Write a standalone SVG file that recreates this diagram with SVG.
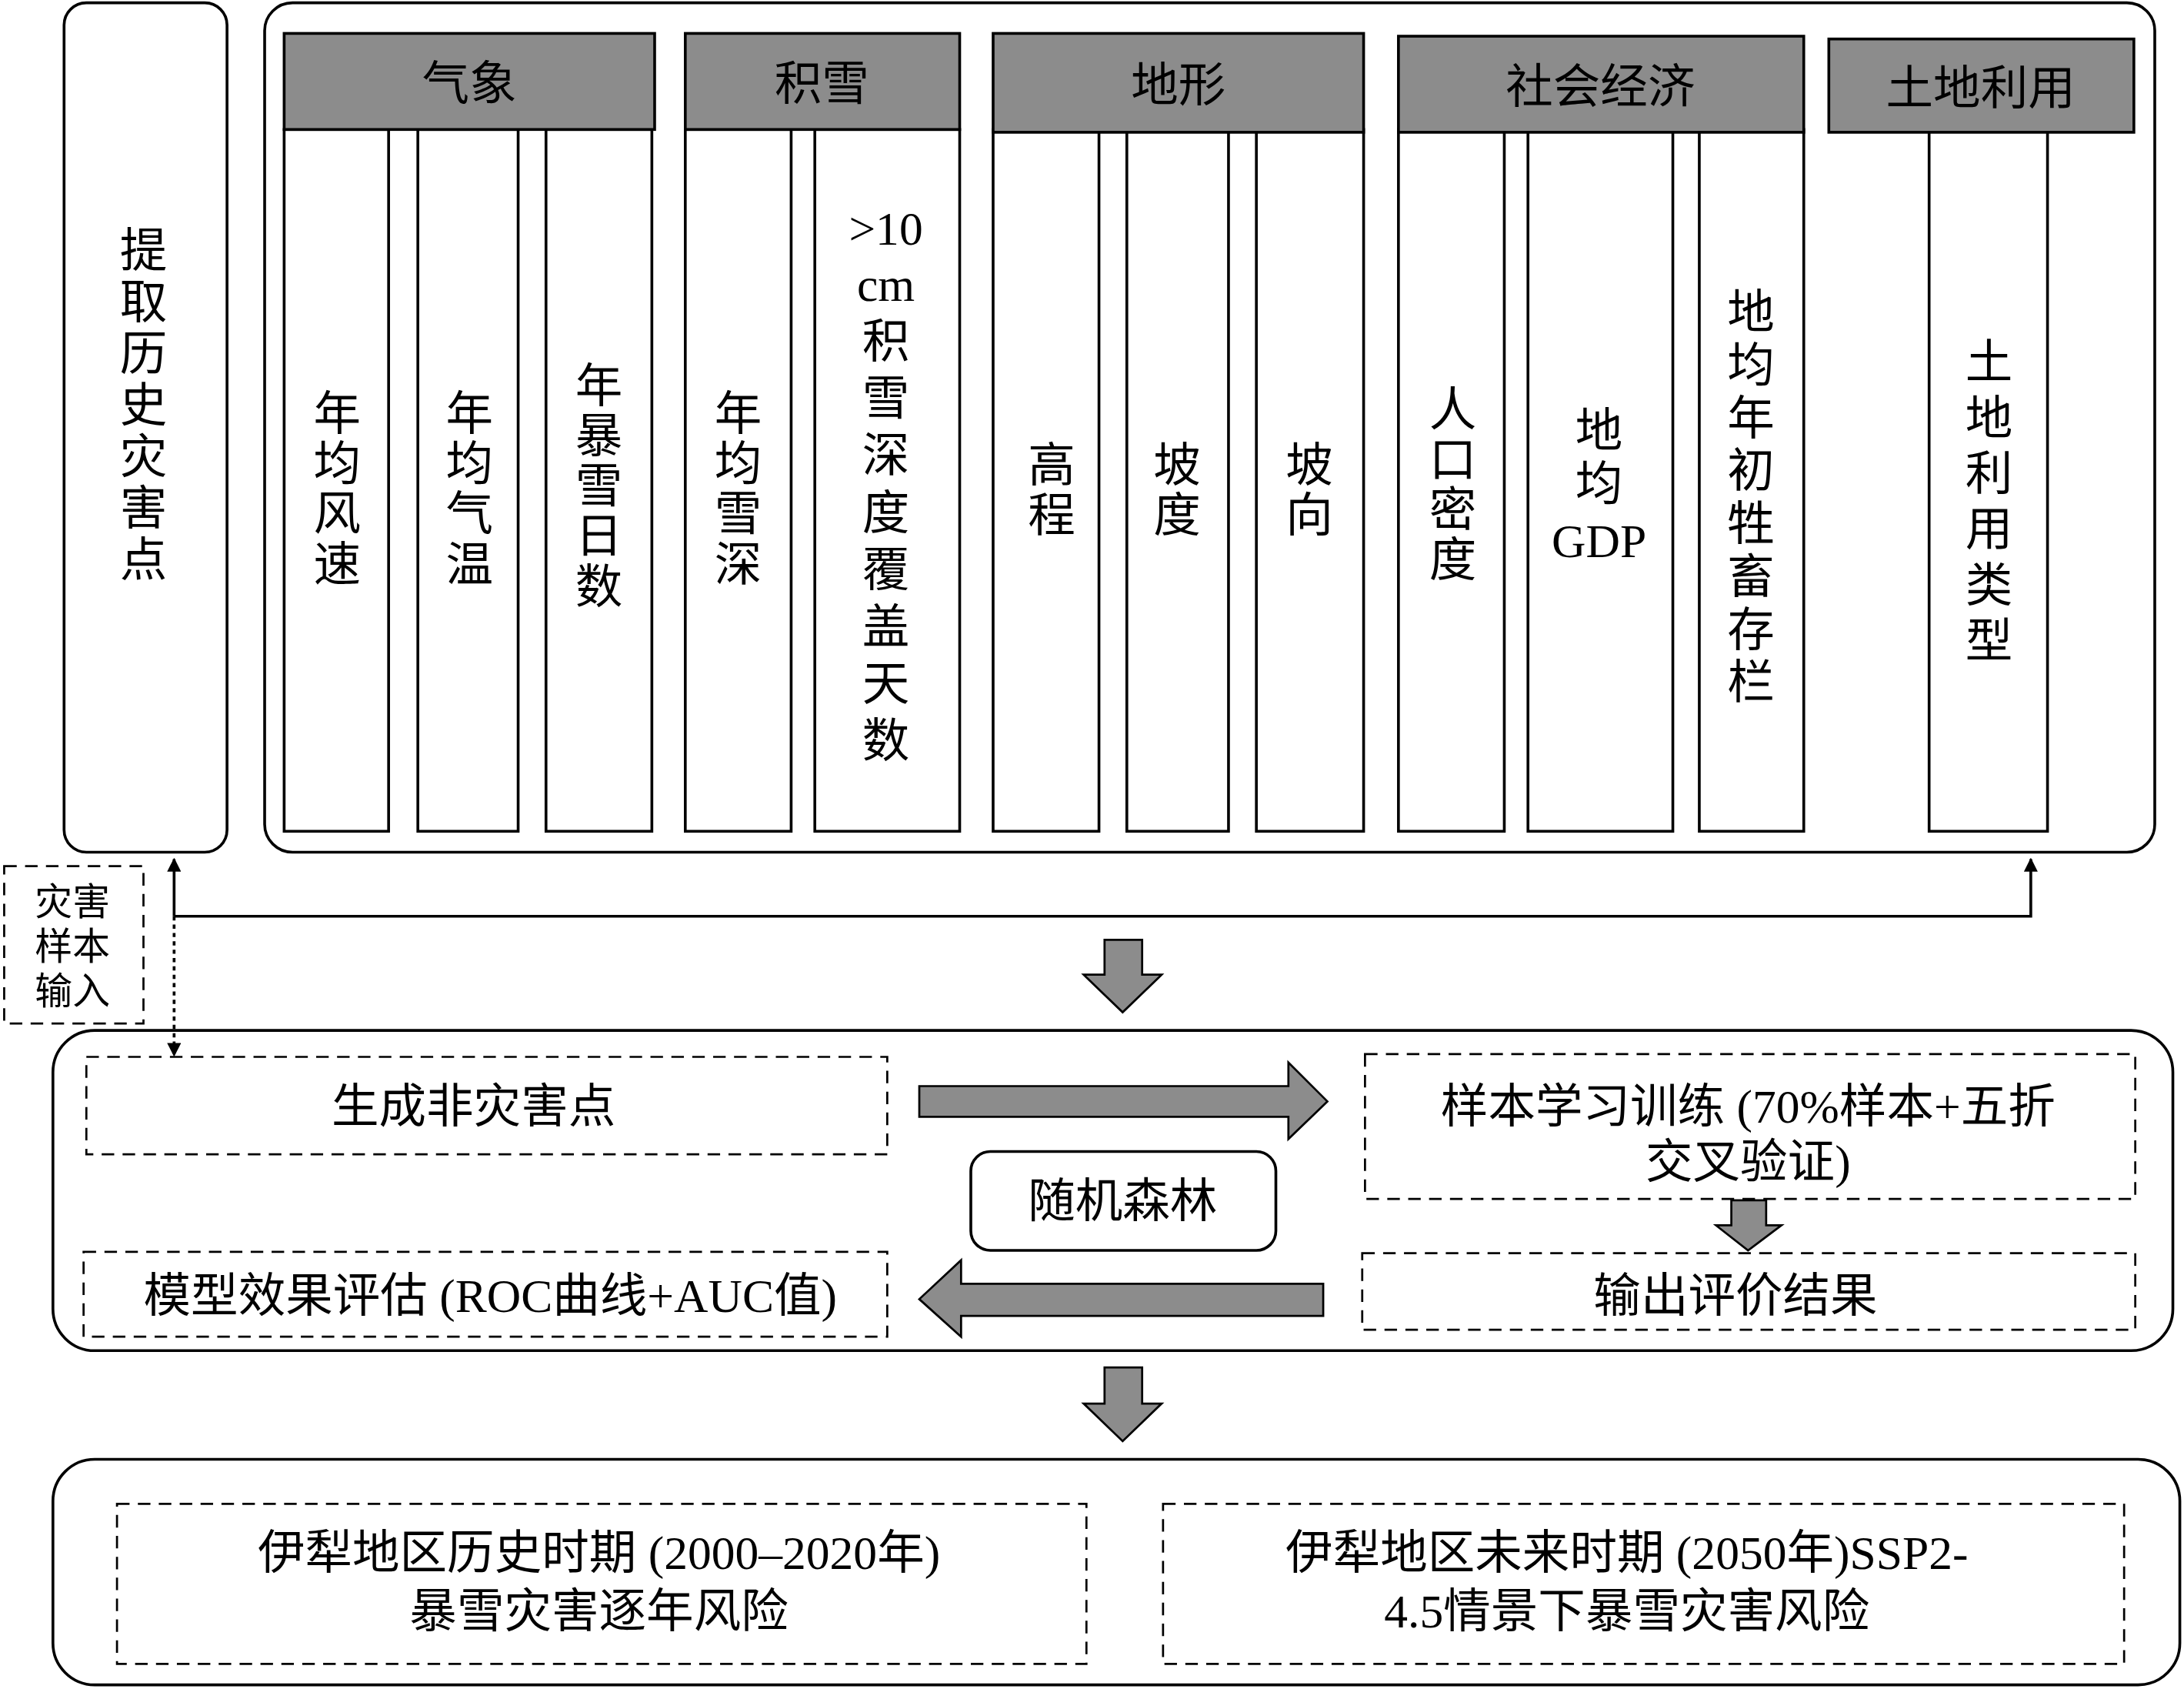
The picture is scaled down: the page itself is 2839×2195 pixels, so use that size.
<svg xmlns="http://www.w3.org/2000/svg" width="2839" height="2195" viewBox="0 0 2839 2195">
<style>
.b{fill:#fff;stroke:#000;stroke-width:2}
.h{fill:#8c8c8c;stroke:#000;stroke-width:2}
.d{fill:#fff;stroke:#000;stroke-width:1.5;stroke-dasharray:9 6}
.g{fill:#8c8c8c;stroke:#000;stroke-width:1.5}
text{font-family:"Liberation Serif","Noto Sans CJK SC",serif;font-size:34px;text-anchor:middle;fill:#000}
.s{font-size:27px}
.ln{fill:none;stroke:#000;stroke-width:2}
</style>
<defs><marker id="a" markerWidth="10" markerHeight="10" refX="9" refY="5" orient="auto" markerUnits="userSpaceOnUse"><path d="M0,0L10,5L0,10z" fill="#000"/></marker></defs>
<rect width="2839" height="2195" fill="#fff"/>
<g transform="scale(1.8106,1.8096)">
<g id="left"><rect class="b" x="46" y="2" width="117" height="610" rx="16"/>
<text x="103" y="192">提</text><text x="103" y="229">取</text><text x="103" y="266">历</text><text x="103" y="303">史</text><text x="103" y="340">灾</text><text x="103" y="377">害</text><text x="103" y="414">点</text></g>
<g id="factors"><rect class="b" x="190" y="2" width="1357" height="610" rx="20"/>
<rect class="b" x="204" y="93" width="75" height="504"/><text x="242" y="309">年</text><text x="242" y="345">均</text><text x="242" y="381">风</text><text x="242" y="417">速</text>
<rect class="b" x="300" y="93" width="72" height="504"/><text x="337" y="309">年</text><text x="337" y="345">均</text><text x="337" y="381">气</text><text x="337" y="417">温</text>
<rect class="b" x="392" y="93" width="76" height="504"/><text x="430" y="289">年</text><text x="430" y="325">暴</text><text x="430" y="361">雪</text><text x="430" y="397">日</text><text x="430" y="433">数</text>
<rect class="b" x="492" y="93" width="76" height="504"/><text x="530" y="309">年</text><text x="530" y="345">均</text><text x="530" y="381">雪</text><text x="530" y="417">深</text>
<rect class="b" x="585" y="93" width="104" height="504"/><text x="636" y="176">&gt;10</text><text x="636" y="216">cm</text><text x="636" y="257">积</text><text x="636" y="298">雪</text><text x="636" y="339">深</text><text x="636" y="380">度</text><text x="636" y="421">覆</text><text x="636" y="462">盖</text><text x="636" y="503">天</text><text x="636" y="544">数</text>
<rect class="b" x="713" y="93" width="76" height="504"/><text x="755" y="346">高</text><text x="755" y="382">程</text>
<rect class="b" x="809" y="93" width="73" height="504"/><text x="845" y="346">坡</text><text x="845" y="382">度</text>
<rect class="b" x="902" y="93" width="77" height="504"/><text x="940" y="346">坡</text><text x="940" y="382">向</text>
<rect class="b" x="1004" y="93" width="76" height="504"/><text x="1043" y="306">人</text><text x="1043" y="342">口</text><text x="1043" y="378">密</text><text x="1043" y="414">度</text>
<rect class="b" x="1097" y="93" width="104" height="504"/><text x="1148" y="321">地</text><text x="1148" y="359">均</text><text x="1148" y="400">GDP</text>
<rect class="b" x="1220" y="93" width="75" height="504"/><text x="1257" y="236">地</text><text x="1257" y="274">均</text><text x="1257" y="312">年</text><text x="1257" y="350">初</text><text x="1257" y="388">牲</text><text x="1257" y="426">畜</text><text x="1257" y="464">存</text><text x="1257" y="502">栏</text>
<rect class="b" x="1385" y="93" width="85" height="504"/><text x="1428" y="272">土</text><text x="1428" y="312">地</text><text x="1428" y="352">利</text><text x="1428" y="392">用</text><text x="1428" y="432">类</text><text x="1428" y="472">型</text>
<rect class="h" x="204" y="24" width="266" height="69"/><text x="337" y="72">气象</text>
<rect class="h" x="492" y="24" width="197" height="69"/><text x="590" y="72">积雪</text>
<rect class="h" x="713" y="24" width="266" height="71"/><text x="846" y="73">地形</text>
<rect class="h" x="1004" y="26" width="291" height="69"/><text x="1149" y="74">社会经济</text>
<rect class="h" x="1313" y="28" width="219" height="67"/><text x="1422" y="75">土地利用</text></g>
<g id="sample"><rect class="d" x="3" y="622" width="100" height="113"/><text class="s" x="52" y="657">灾害</text><text class="s" x="52" y="689">样本</text><text class="s" x="52" y="721">输入</text></g>
<g id="model"><rect class="b" x="38" y="740" width="1522" height="230" rx="30"/>
<rect class="d" x="62" y="759" width="575" height="70"/><text x="340" y="806">生成非灾害点</text>
<rect class="d" x="980" y="757" width="553" height="104"/><text x="1255" y="806">样本学习训练 (70%样本+五折</text><text x="1255" y="846">交叉验证)</text>
<rect class="b" x="697" y="827" width="219" height="71" rx="14"/><text x="806" y="874">随机森林</text>
<rect class="d" x="978" y="900" width="555" height="55"/><text x="1246" y="942">输出评价结果</text>
<rect class="d" x="60" y="899" width="577" height="61"/><text x="352" y="942">模型效果评估 (ROC曲线+AUC值)</text></g>
<g id="result"><rect class="b" x="38" y="1048" width="1527" height="162" rx="30"/>
<rect class="d" x="84" y="1080" width="696" height="115"/><text x="430" y="1127">伊犁地区历史时期 (2000–2020年)</text><text x="430" y="1169">暴雪灾害逐年风险</text>
<rect class="d" x="835" y="1080" width="690" height="115"/><text x="1168" y="1127">伊犁地区未来时期 (2050年)SSP2-</text><text x="1168" y="1169">4.5情景下暴雪灾害风险</text></g>
<g id="connectors">
<path class="ln" d="M125,658H1458V617" marker-end="url(#a)"/>
<path class="ln" d="M125,658V617" marker-end="url(#a)"/>
<path class="ln" d="M125,658V758" stroke-dasharray="3 3" marker-end="url(#a)"/>
<path class="g" d="M793,675H820V700H834L806,727L778,700H793Z"/>
<path class="g" d="M793,982H820V1008H834L806,1035L778,1008H793Z"/>
<path class="g" d="M660,780H925V763L953,791L925,818V802H660Z"/>
<path class="g" d="M1243,862H1268V880H1279L1255,898L1232,880H1243Z"/>
<path class="g" d="M950,922H690V905L660,933L690,960V945H950Z"/>
</g>
</g>
</svg>
